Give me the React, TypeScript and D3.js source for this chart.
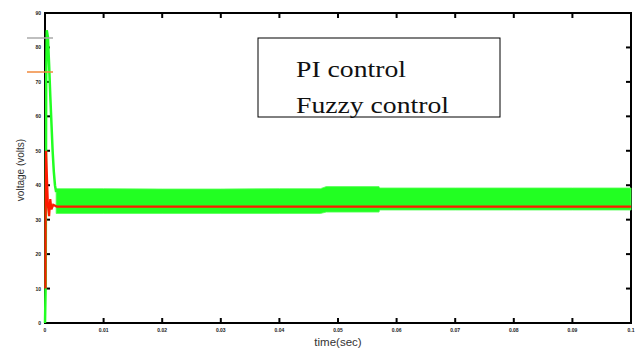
import React from "react";
import * as d3 from "d3";

const xTicks = [0, 0.01, 0.02, 0.03, 0.04, 0.05, 0.06, 0.07, 0.08, 0.09, 0.1];
const xTickLabels = ["0", "0.01", "0.02", "0.03", "0.04", "0.05", "0.06", "0.07", "0.08", "0.09", "0.1"];
const yTicks = [0, 10, 20, 30, 40, 50, 60, 70, 80, 90];
const yTickLabels = ["0", "10", "20", "30", "40", "50", "60", "70", "80", "90"];

// PI control (green) start-up transient
const piTime = [0, 0.00012, 0.0002, 0.0003, 0.0005, 0.0007, 0.0009, 0.0011, 0.0013, 0.0015, 0.0017, 0.0019];
const piValue = [0, 12, 70, 85, 83, 75, 66, 58, 50, 44, 40, 38];
// PI control steady-state ripple envelope
const piBandTime = [0.0019, 0.01, 0.02, 0.03, 0.04, 0.047, 0.048, 0.057, 0.0571, 0.07, 0.08, 0.09, 0.1];
const piBandUpper = [39, 39, 38.9, 38.9, 39, 39, 39.6, 39.6, 39.2, 39.2, 39.2, 39.2, 39.2];
const piBandLower = [31.8, 31.8, 31.8, 31.8, 31.8, 31.8, 32.2, 32.2, 32.8, 32.8, 32.8, 32.8, 32.8];

// Fuzzy control (red)
const fuzzyTime = [0.00008, 0.0001, 0.00018, 0.0003, 0.0005, 0.0007, 0.0009, 0.0011, 0.0014, 0.002, 0.003, 0.05, 0.1];
const fuzzyValue = [10, 30, 50, 44, 34, 31, 36, 33, 34.3, 33.8, 33.8, 33.8, 33.8];

const legendLabels = ["PI control", "Fuzzy control"];

export default function App() {
  const W = 642, H = 350;
  const left = 45, right = 631, top = 13, bottom = 323;
  const x = d3.scaleLinear().domain([0, 0.1]).range([left, right]);
  const y = d3.scaleLinear().domain([0, 90]).range([bottom, top]);

  const piLine = d3
    .line<number>()
    .x((_, i) => x(piTime[i]))
    .y((d) => y(d))(piValue) as string;
  const fuzzyLine = d3
    .line<number>()
    .x((_, i) => x(fuzzyTime[i]))
    .y((d) => y(d))(fuzzyValue) as string;
  const band = d3
    .area<number>()
    .x((_, i) => x(piBandTime[i]))
    .y0((_, i) => y(piBandLower[i]))
    .y1((d) => y(d))(piBandUpper) as string;

  const tl = 5;
  return (
    <svg width={W} height={H} style={{ position: "absolute", left: 0, top: 0, background: "#fff" }}>
      <rect x={0} y={0} width={W} height={H} fill="#fff" />
      {/* axes box */}
      <rect x={left} y={top} width={right - left} height={bottom - top} fill="none" stroke="#000" strokeWidth={2} />
      {xTicks.map((t, i) => (
        <g key={"xt" + i}>
          <line x1={x(t)} x2={x(t)} y1={bottom} y2={bottom - tl} stroke="#000" strokeWidth={2} />
          <line x1={x(t)} x2={x(t)} y1={top} y2={top + tl} stroke="#000" strokeWidth={2} />
          <text x={x(t)} y={bottom + 9} fontSize={5} fontWeight="bold" textAnchor="middle" fontFamily="Liberation Sans, Arial, sans-serif" fill="#222">
            {xTickLabels[i]}
          </text>
        </g>
      ))}
      {yTicks.map((t, i) => (
        <g key={"yt" + i}>
          <line x1={left} x2={left + tl} y1={y(t)} y2={y(t)} stroke="#000" strokeWidth={2} />
          <line x1={right} x2={right - tl} y1={y(t)} y2={y(t)} stroke="#000" strokeWidth={2} />
          <text x={left - 4} y={y(t) + 2} fontSize={5} fontWeight="bold" textAnchor="end" fontFamily="Liberation Sans, Arial, sans-serif" fill="#222">
            {yTickLabels[i]}
          </text>
        </g>
      ))}
      {/* data */}
      <path d={band} fill="#22ff22" stroke="#55ff55" strokeWidth={0.8} />
      <path d={piLine} fill="none" stroke="#22ff22" strokeWidth={2.5} />
      <path d={fuzzyLine} fill="none" stroke="#ff1a00" strokeWidth={2.2} />
      {/* axis labels */}
      <text x={338} y={346} fontSize={11.5} textAnchor="middle" fontFamily="Liberation Sans, Arial, sans-serif" fill="#333">
        time(sec)
      </text>
      <text transform="translate(24,170) rotate(-90)" fontSize={10} textAnchor="middle" fontFamily="Liberation Sans, Arial, sans-serif" fill="#333">
        voltage (volts)
      </text>
      {/* legend line samples */}
      <line x1={27} x2={53} y1={38} y2={38} stroke="#aaaaaa" strokeWidth={1.5} />
      <line x1={27} x2={53} y1={72} y2={72} stroke="#f08a3c" strokeWidth={1.5} />
      {/* legend box */}
      <rect x={258} y={38} width={242} height={79} fill="#fff" stroke="#000" strokeWidth={1} />
      <text x={296} y={77} fontSize={23} fontFamily="Liberation Serif, Times New Roman, serif" fill="#111" textLength={110} lengthAdjust="spacingAndGlyphs">
        {legendLabels[0]}
      </text>
      <text x={296} y={113} fontSize={23} fontFamily="Liberation Serif, Times New Roman, serif" fill="#111" textLength={153} lengthAdjust="spacingAndGlyphs">
        {legendLabels[1]}
      </text>
    </svg>
  );
}
